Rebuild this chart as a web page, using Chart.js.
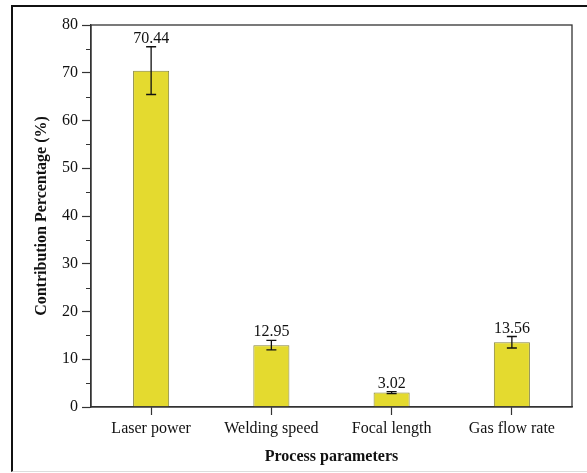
<!DOCTYPE html>
<html>
<head>
<meta charset="utf-8">
<script src="https://cdn.jsdelivr.net/npm/chart.js@4.4.1/dist/chart.umd.min.js"></script>
<style>
  body { margin: 0; background: #fff; }
  #wrap { position: relative; width: 587px; height: 473px; overflow: hidden; }
  #frame {
    position: absolute; left: 11px; top: 5px; width: 620px; height: 464px;
    border-left: 2px solid #111; border-top: 2px solid #111; border-bottom: 1px solid #ddd;
  }
  #chart { position: absolute; left: 0; top: 0; }
</style>
</head>
<body>
<div id="wrap">
  <div id="frame"></div>
  <canvas id="chart" width="587" height="473"></canvas>
</div>
<script>
const categories = ['Laser power', 'Welding speed', 'Focal length', 'Gas flow rate'];
const contribution = [70.44, 12.95, 3.02, 13.56];
const errors = [5.0, 1.0, 0.2, 1.2];
const valueLabels = ['70.44', '12.95', '3.02', '13.56'];
const minorTicks = [5, 15, 25, 35, 45, 55, 65, 75];

const serif = '"Liberation Serif", "Times New Roman", serif';
const axisColor = '#333';

// error bars + value labels above them
const errorBars = {
    id: 'errorBars',
    afterDatasetsDraw(chart) {
        const ctx = chart.ctx;
        const y = chart.scales.y;
        const meta = chart.getDatasetMeta(0);
        ctx.save();
        ctx.strokeStyle = '#111';
        ctx.lineWidth = 1.3;
        meta.data.forEach((bar, i) => {
            const top = y.getPixelForValue(contribution[i] + errors[i]);
            const bot = y.getPixelForValue(contribution[i] - errors[i]);
            ctx.beginPath();
            ctx.moveTo(bar.x, top); ctx.lineTo(bar.x, bot);
            ctx.moveTo(bar.x - 5, top); ctx.lineTo(bar.x + 5, top);
            ctx.moveTo(bar.x - 5, bot); ctx.lineTo(bar.x + 5, bot);
            ctx.stroke();
            ctx.fillStyle = '#111';
            ctx.font = '16px ' + serif;
            ctx.textAlign = 'center';
            ctx.textBaseline = 'alphabetic';
            ctx.fillText(valueLabels[i], bar.x, top - 4);
        });
        ctx.restore();
    }
};

// box around plot area and minor ticks on y
const frameAndMinor = {
    id: 'frameAndMinor',
    afterDraw(chart) {
        const {ctx, chartArea: a} = chart;
        const y = chart.scales.y;
        ctx.save();
        ctx.strokeStyle = axisColor;
        ctx.lineWidth = 1.3;
        ctx.strokeRect(a.left, a.top, a.right - a.left, a.bottom - a.top);
        ctx.beginPath();
        minorTicks.forEach(v => {
            const py = Math.round(y.getPixelForValue(v)) + 0.5;
            ctx.moveTo(a.left - 5, py); ctx.lineTo(a.left, py);
        });
        ctx.lineWidth = 1;
        ctx.stroke();
        ctx.restore();
    }
};

new Chart(document.getElementById('chart'), {
    type: 'bar',
    data: {
        labels: categories,
        datasets: [{
            data: contribution,
            backgroundColor: '#e4da2f',
            borderColor: '#85843c',
            borderWidth: 1,
            barPercentage: 0.3,
            categoryPercentage: 1
        }]
    },
    options: {
        responsive: false,
        animation: false,
        layout: { padding: { top: 25, right: 15, left: 0, bottom: 0 } },
        plugins: { legend: { display: false }, tooltip: { enabled: false } },
        scales: {
            x: {
                grid: { drawOnChartArea: false, offset: false, tickLength: 8, color: axisColor, tickWidth: 1.2 },
                border: { color: axisColor, width: 1.3 },
                ticks: { color: '#111', padding: 4, font: { family: serif, size: 16 } },
                title: {
                    display: true, text: 'Process parameters', color: '#111',
                    font: { family: serif, size: 16, weight: 'bold' },
                    padding: { top: 0, bottom: 7 }
                },
                afterFit(scale) { scale.height = 66; }
            },
            y: {
                min: 0, max: 80,
                grid: { drawOnChartArea: false, tickLength: 9, color: axisColor, tickWidth: 1.2 },
                border: { color: axisColor, width: 1.3 },
                ticks: { stepSize: 10, color: '#111', padding: 4, font: { family: serif, size: 16 } },
                title: {
                    display: true, text: 'Contribution Percentage (%)', color: '#111',
                    font: { family: serif, size: 16, weight: 'bold' },
                    padding: { top: 32, bottom: 0 }
                },
                afterFit(scale) { scale.width = 91; }
            }
        }
    },
    plugins: [errorBars, frameAndMinor]
});
</script>
</body>
</html>
